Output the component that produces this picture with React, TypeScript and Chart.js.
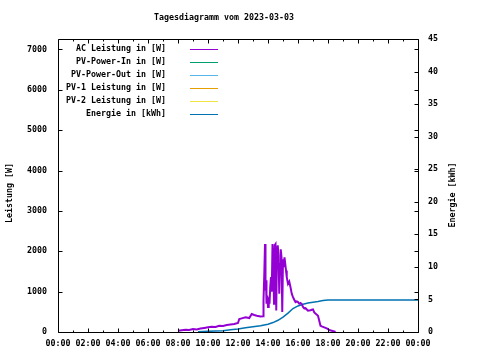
import React, { useEffect, useRef } from "react";
import { Chart, registerables } from "chart.js";

Chart.register(...registerables);

const TITLE = "Tagesdiagramm vom 2023-03-03";
const Y_TITLE = "Leistung [W]";
const Y2_TITLE = "Energie [kWh]";

const X_TICK_LABELS = [
  "00:00", "02:00", "04:00", "06:00", "08:00", "10:00", "12:00",
  "14:00", "16:00", "18:00", "20:00", "22:00", "00:00",
];
const Y_TICKS = [0, 1000, 2000, 3000, 4000, 5000, 6000, 7000];
const Y2_TICKS = [0, 5, 10, 15, 20, 25, 30, 35, 40, 45];

const SERIES_LABELS = [
  "AC Leistung in [W]",
  "PV-Power-In in [W]",
  "PV-Power-Out in [W]",
  "PV-1 Leistung in [W]",
  "PV-2 Leistung in [W]",
  "Energie in [kWh]",
];
const SERIES_COLORS = ["#9400D3", "#009E73", "#56B4E9", "#E69F00", "#F0E442", "#0072B2"];

const AC_TIMES = [
  "08:00", "08:15", "08:30", "08:45", "09:00", "09:15", "09:30", "09:45",
  "10:00", "10:15", "10:30", "10:45", "11:00", "11:15", "11:30", "11:45",
  "12:00", "12:05", "12:15", "12:30", "12:45", "12:55", "13:05", "13:15",
  "13:30", "13:40", "13:42", "13:45", "13:48", "13:50", "13:52", "13:54",
  "13:57", "14:00", "14:03", "14:06", "14:09", "14:12", "14:15", "14:18",
  "14:21", "14:24", "14:27", "14:30", "14:33", "14:36", "14:39", "14:42",
  "14:45", "14:48", "14:51", "14:54", "14:57", "15:00", "15:03", "15:06",
  "15:09", "15:12", "15:15", "15:20", "15:25", "15:30", "15:35", "15:40",
  "15:45", "15:50", "15:55", "16:00", "16:05", "16:10", "16:15", "16:20",
  "16:25", "16:30", "16:40", "16:50", "16:55", "17:00", "17:05", "17:12",
  "17:20", "17:25", "17:30", "17:35", "17:45", "17:55", "18:00", "18:05",
  "18:15", "18:25", "18:30",
];
const AC_VALUES = [
  30, 45, 57, 50, 74, 65, 85, 100,
  115, 130, 125, 156, 150, 173, 185, 198,
  222, 321, 337, 362, 345, 444, 420, 403,
  383, 390, 783, 1400, 2180, 1030, 1284, 700,
  900, 617, 864, 700, 1111, 1358, 1000, 2180,
  1852, 700, 2155, 2180, 535, 2100, 2150, 1900,
  946, 1687, 2050, 1852, 494, 1800, 1605, 1852,
  1687, 1523, 1358, 1193, 1250, 1111, 946, 864,
  798, 741, 760, 741, 700, 720, 691, 620,
  584, 590, 527, 540, 551, 560, 486, 444,
  403, 280, 156, 140, 115, 91, 74, 49,
  33, 16, 0,
];

const ENERGY_TIMES = [
  "09:20", "10:00", "10:30", "11:00", "11:30", "12:00", "12:30", "13:00",
  "13:30", "14:00", "14:20", "14:40", "15:00", "15:20", "15:40", "16:00",
  "16:20", "16:40", "17:00", "17:20", "17:40", "18:00", "24:00",
];
const ENERGY_VALUES = [
  0.05, 0.1, 0.15, 0.2, 0.35, 0.46, 0.65, 0.8,
  0.95, 1.2, 1.45, 1.8, 2.3, 2.9, 3.6, 4.0,
  4.25, 4.45, 4.58, 4.68, 4.82, 4.9, 4.9,
];

const toHours = (t: string) => {
  const [h, m] = t.split(":").map(Number);
  return h + m / 60;
};

const FONT = "bold 8.3px 'DejaVu Sans Mono'";

const gnuFrame = {
  id: "gnuFrame",
  afterDatasetsDraw(chart: any) {
    const { ctx, chartArea: a, scales } = chart;
    const xs = scales.x, ys = scales.y, y2s = scales.y2;
    ctx.save();
    ctx.strokeStyle = "#000";
    ctx.lineWidth = 1;
    ctx.beginPath();
    ctx.rect(a.left + 0.5, a.top + 0.5, a.right - a.left, a.bottom - a.top);
    for (let h = 0; h <= 24; h++) {
      const px = Math.round(xs.getPixelForValue(h)) + 0.5;
      const len = h % 2 === 0 ? 4 : 2;
      ctx.moveTo(px, a.bottom + 0.5);
      ctx.lineTo(px, a.bottom + 0.5 - len);
      ctx.moveTo(px, a.top + 0.5);
      ctx.lineTo(px, a.top + 0.5 + len);
    }
    for (const v of Y_TICKS) {
      const py = Math.round(ys.getPixelForValue(v)) + 0.5;
      ctx.moveTo(a.left + 0.5, py);
      ctx.lineTo(a.left + 4.5, py);
      ctx.moveTo(a.right + 0.5, py);
      ctx.lineTo(a.right - 3.5, py);
    }
    for (const v of Y2_TICKS) {
      const py = Math.round(y2s.getPixelForValue(v)) + 0.5;
      ctx.moveTo(a.right + 0.5, py);
      ctx.lineTo(a.right - 3.5, py);
    }
    ctx.stroke();

    ctx.fillStyle = "#000";
    ctx.font = FONT;
    ctx.textBaseline = "middle";
    ctx.textAlign = "center";
    ctx.fillText(TITLE, 224, 18);
    X_TICK_LABELS.forEach((lab, i) => {
      ctx.fillText(lab, xs.getPixelForValue(i * 2), a.bottom + 12);
    });
    ctx.textAlign = "right";
    for (const v of Y_TICKS) {
      ctx.fillText(String(v), a.left - 11, ys.getPixelForValue(v));
    }
    ctx.textAlign = "left";
    for (const v of Y2_TICKS) {
      ctx.fillText(String(v), a.right + 10, y2s.getPixelForValue(v));
    }
    ctx.textAlign = "center";
    ctx.save();
    ctx.translate(10, 193);
    ctx.rotate(-Math.PI / 2);
    ctx.fillText(Y_TITLE, 0, 0);
    ctx.restore();
    ctx.save();
    ctx.translate(453, 195);
    ctx.rotate(-Math.PI / 2);
    ctx.fillText(Y2_TITLE, 0, 0);
    ctx.restore();
    chart.data.datasets.forEach((ds: any, i: number) => {
      const ly = 49 + i * 13;
      ctx.textAlign = "right";
      ctx.fillStyle = "#000";
      ctx.fillText(ds.label, 166, ly);
      ctx.strokeStyle = ds.borderColor;
      ctx.lineWidth = 1;
      ctx.beginPath();
      ctx.moveTo(190, ly + 0.5);
      ctx.lineTo(218, ly + 0.5);
      ctx.stroke();
    });
    ctx.restore();
  },
};

export default function App() {
  const ref = useRef<HTMLCanvasElement | null>(null);
  useEffect(() => {
    if (!ref.current) return;
    const acData = AC_TIMES.map((t, i) => ({ x: toHours(t), y: AC_VALUES[i] }));
    const enData = ENERGY_TIMES.map((t, i) => ({ x: toHours(t), y: ENERGY_VALUES[i] }));
    const datasets = SERIES_LABELS.map((label, i) => ({
      label,
      data: i === 0 ? acData : i === 5 ? enData : [],
      borderColor: SERIES_COLORS[i],
      backgroundColor: SERIES_COLORS[i],
      borderWidth: i === 0 ? 2 : 1.5,
      pointRadius: 0,
      tension: 0,
      fill: false,
      yAxisID: i === 5 ? "y2" : "y",
    }));
    const chart = new Chart(ref.current, {
      type: "line",
      data: { datasets },
      options: {
        responsive: false,
        animation: false,
        devicePixelRatio: 1,
        layout: { padding: { left: 58, right: 62, top: 39, bottom: 28 } },
        plugins: { legend: { display: false }, title: { display: false }, tooltip: { enabled: false } },
        scales: {
          x: { type: "linear", min: 0, max: 24, display: false },
          y: { type: "linear", min: 0, max: 7260, display: false },
          y2: { type: "linear", min: 0, max: 45, display: false, position: "right" },
        },
      },
      plugins: [gnuFrame],
    } as any);
    return () => chart.destroy();
  }, []);
  return (
    <div style={{ position: "fixed", left: 0, top: 0, width: 480, height: 360, background: "#fff" }}>
      <canvas ref={ref} width={480} height={360} />
    </div>
  );
}
